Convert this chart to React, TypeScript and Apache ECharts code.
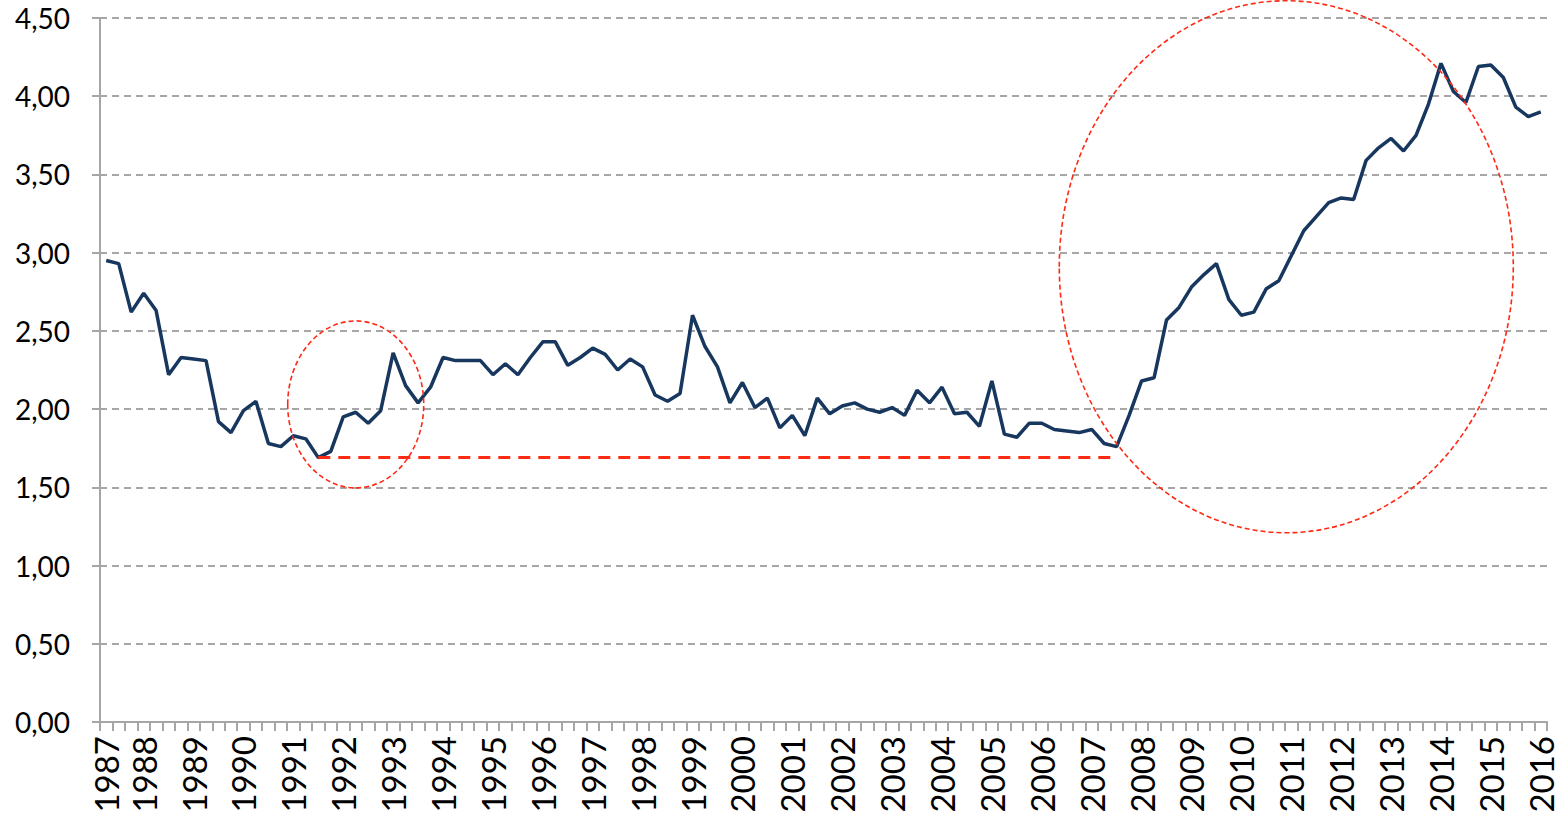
import React, { useEffect, useRef } from "react";
import * as echarts from "echarts";

// Quarterly series, first point = 1987 Q2, last point = 2016 Q1
const firstYear = 1987;
const firstQuarter = 2;

const ratioValues: number[] = [
  2.95, 2.93, 2.62, 2.74, 2.63, 2.22, 2.33, 2.32, 2.31, 1.92,
  1.85, 1.99, 2.05, 1.78, 1.76, 1.83, 1.81, 1.69, 1.73, 1.95,
  1.98, 1.91, 1.99, 2.36, 2.15, 2.04, 2.14, 2.33, 2.31, 2.31,
  2.31, 2.22, 2.29, 2.22, 2.33, 2.43, 2.43, 2.28, 2.33, 2.39,
  2.35, 2.25, 2.32, 2.27, 2.09, 2.05, 2.10, 2.60, 2.40, 2.27,
  2.04, 2.17, 2.01, 2.07, 1.88, 1.96, 1.83, 2.07, 1.97, 2.02,
  2.04, 2.00, 1.98, 2.01, 1.96, 2.12, 2.04, 2.14, 1.97, 1.98,
  1.89, 2.18, 1.84, 1.82, 1.91, 1.91, 1.87, 1.86, 1.85, 1.87,
  1.78, 1.76, 1.96, 2.18, 2.20, 2.57, 2.65, 2.78, 2.86, 2.93,
  2.70, 2.60, 2.62, 2.77, 2.82, 2.98, 3.14, 3.23, 3.32, 3.35,
  3.34, 3.59, 3.67, 3.73, 3.65, 3.75, 3.95, 4.21, 4.03, 3.96,
  4.19, 4.20, 4.12, 3.93, 3.87, 3.90,
];

const yTicks: number[] = [0, 0.5, 1, 1.5, 2, 2.5, 3, 3.5, 4, 4.5];

// Horizontal "floor" reference line: from the 1991 low to the 2007 low
const floorLevel = 1.69;
const floorFromIndex = 17;
const floorToIndex = 81;

// Dashed ellipses highlighting two periods (category index, fractional offset, value centre)
const highlightIndex = [20, 94];
const highlightOffset = [0, 0.6];
const highlightValue = [2.03, 2.91];
const highlightRx = [68, 227];
const highlightRy = [83.5, 266];

const quarterCategories: string[] = ratioValues.map((_, i) => {
  const q = firstQuarter - 1 + i;
  const year = firstYear + Math.floor(q / 4);
  return `${year}T${(q % 4) + 1}`;
});

const GREY = "#a6a6a6";
const RED = "#ff2a14";
const FONT = "Lato, 'Open Sans', sans-serif";

export default function App() {
  const ref = useRef<HTMLDivElement>(null);

  useEffect(() => {
    if (!ref.current) return;
    const chart = echarts.init(ref.current, undefined, { renderer: "svg" });
    chart.setOption({
      animation: false,
      backgroundColor: "#ffffff",
      grid: { left: 100, right: 20, top: 18, bottom: 100, containLabel: false },
      xAxis: {
        type: "category",
        data: quarterCategories,
        boundaryGap: true,
        axisLine: { show: true, lineStyle: { color: GREY, width: 2 } },
        axisTick: { show: true, interval: 0, length: 9, lineStyle: { color: GREY, width: 2 } },
        axisLabel: {
          interval: 0,
          rotate: 90,
          margin: 14,
          color: "#000",
          fontFamily: FONT,
          fontSize: 33,
          formatter: (val: string, idx: number) =>
            idx === 0 || val.endsWith("T1") ? val.slice(0, 4) : "",
        },
        splitLine: { show: false },
      },
      yAxis: {
        type: "value",
        min: yTicks[0],
        max: yTicks[yTicks.length - 1],
        interval: 0.5,
        axisLine: { show: true, lineStyle: { color: GREY, width: 2 } },
        axisTick: { show: true, length: 8, lineStyle: { color: GREY, width: 2 } },
        axisLabel: {
          margin: 30,
          color: "#000",
          fontFamily: FONT,
          fontSize: 28,
          formatter: (v: number) => v.toFixed(2).replace(".", ","),
        },
        splitLine: { show: true, lineStyle: { color: GREY, width: 2, type: [7, 5] } },
      },
      series: [
        {
          type: "line",
          data: ratioValues,
          showSymbol: false,
          symbol: "none",
          lineStyle: { color: "#17375e", width: 3.5 },
          z: 3,
          markLine: {
            silent: true,
            symbol: ["none", "none"],
            label: { show: false },
            lineStyle: { color: RED, width: 3, type: [12, 8] },
            data: [
              [
                { coord: [quarterCategories[floorFromIndex], floorLevel] },
                { coord: [quarterCategories[floorToIndex], floorLevel] },
              ],
            ],
          },
        },
      ],
    });

    const ellipses = highlightIndex.map((idx, k) => {
      const a = chart.convertToPixel({ gridIndex: 0 }, [quarterCategories[idx], highlightValue[k]]) as number[];
      const b = chart.convertToPixel({ gridIndex: 0 }, [quarterCategories[idx + 1], highlightValue[k]]) as number[];
      const cx = a[0] + highlightOffset[k] * (b[0] - a[0]);
      return {
        type: "ellipse",
        silent: true,
        z: 10,
        shape: { cx, cy: a[1], rx: highlightRx[k], ry: highlightRy[k] },
        style: { fill: "none", stroke: RED, lineWidth: 1.6, lineDash: [5, 3] },
      };
    });
    chart.setOption({ graphic: ellipses });

    return () => chart.dispose();
  }, []);

  return (
    <div
      ref={ref}
      style={{ position: "fixed", left: 0, top: 0, width: 1567, height: 822, background: "#fff" }}
    />
  );
}
